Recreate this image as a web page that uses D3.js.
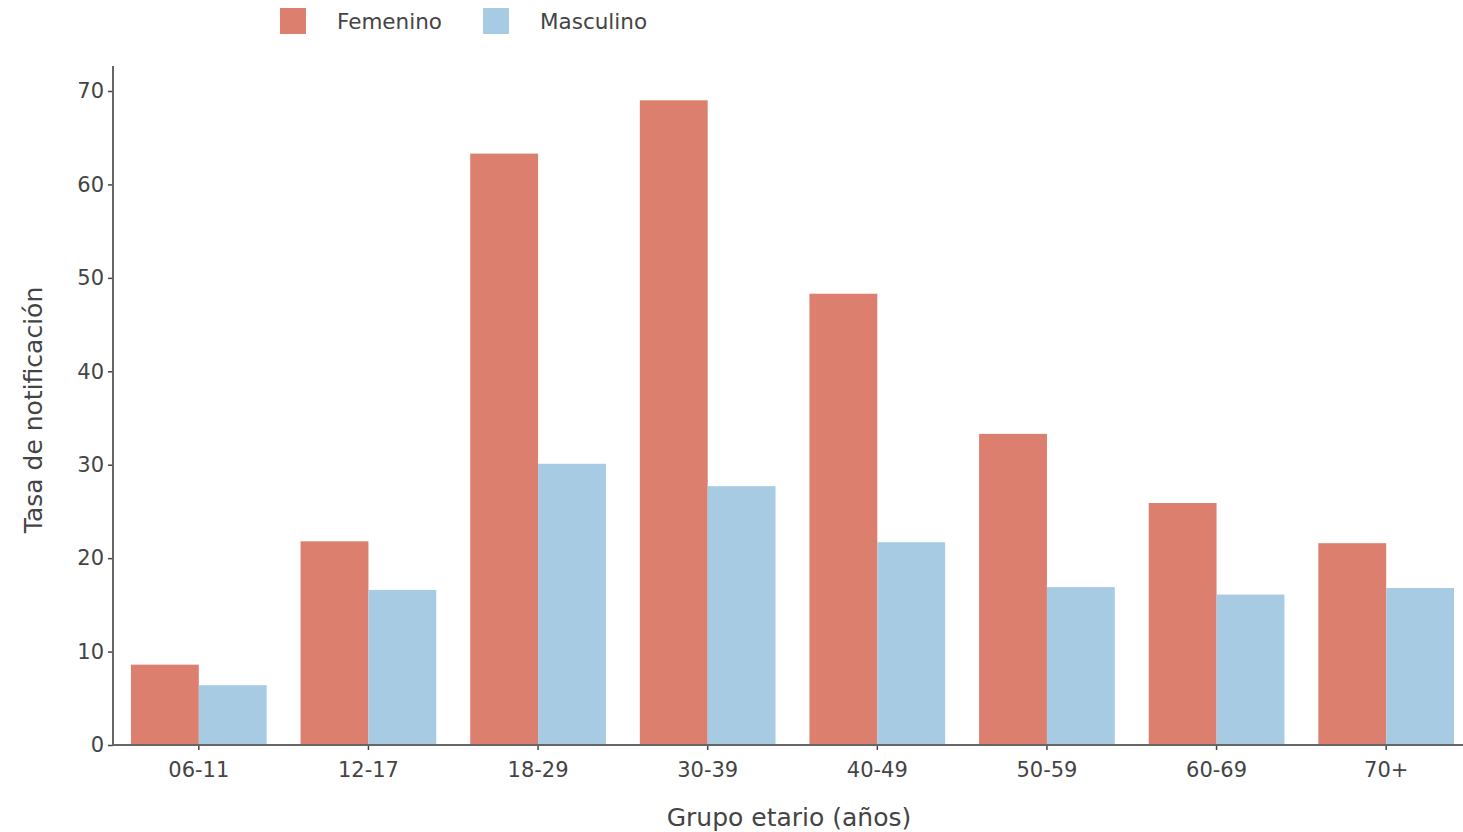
<!DOCTYPE html>
<html><head><meta charset="utf-8">
<script src="https://cdn.jsdelivr.net/npm/d3@7"></script>
<style>body{margin:0;background:#fff;}svg{display:block;}</style>
</head><body>
<script>
const categories = ["06-11","12-17","18-29","30-39","40-49","50-59","60-69","70+"];
const seriesNames = ["Femenino","Masculino"];
const femenino = [8.6, 21.8, 63.3, 69.0, 48.3, 33.3, 25.9, 21.6];
const masculino = [6.4, 16.6, 30.1, 27.7, 21.7, 16.9, 16.1, 16.8];
const yTicks = [0,10,20,30,40,50,60,70];
const colors = ["#dc7f6e","#a6cbe3"];

const W = 1463, H = 832;
const svg = d3.select("body").append("svg").attr("width", W).attr("height", H);
const font = "DejaVu Sans, Verdana, sans-serif";
const left = 114, right = 1471, baseY = 745;

const x = d3.scaleBand().domain(categories).range([left, right]).paddingInner(0.2).paddingOuter(0.1);
const xs = d3.scaleBand().domain(seriesNames).range([0, x.bandwidth()]);
const y = d3.scaleLinear().domain([0, 70]).range([baseY, 91]);

const data = categories.map((c, i) => ({cat: c, vals: [femenino[i], masculino[i]]}));
const g = svg.append("g");
data.forEach(d => {
  d.vals.forEach((v, j) => {
    g.append("rect")
      .attr("x", x(d.cat) + xs(seriesNames[j]))
      .attr("y", y(v))
      .attr("width", xs.bandwidth())
      .attr("height", baseY - y(v))
      .attr("fill", colors[j]);
  });
});

// Y axis
const yAxis = svg.append("g").attr("transform", `translate(${left-1},0)`)
  .call(d3.axisLeft(y).tickValues(yTicks).tickSize(5).tickPadding(4));
yAxis.select(".domain").remove();
yAxis.append("line").attr("x1",0).attr("x2",0).attr("y1",66).attr("y2",baseY+1).attr("stroke","#666").attr("stroke-width",2);
yAxis.selectAll(".tick line").attr("stroke","#444").attr("stroke-width",1.5);
yAxis.selectAll(".tick text").attr("fill","#444").attr("font-size",21).attr("font-family",font);

// X axis
const xAxis = svg.append("g").attr("transform", `translate(0,${baseY})`)
  .call(d3.axisBottom(x).tickSize(5).tickPadding(12));
xAxis.select(".domain").remove();
xAxis.append("line").attr("x1",left-2).attr("x2",W).attr("y1",0).attr("y2",0).attr("stroke","#666").attr("stroke-width",2);
xAxis.selectAll(".tick line").attr("stroke","#444").attr("stroke-width",1.5);
xAxis.selectAll(".tick text").attr("fill","#444").attr("font-size",21).attr("font-family",font);

// Titles
svg.append("text").attr("x", 789).attr("y", 826).attr("text-anchor","middle")
  .attr("font-family",font).attr("font-size",25).attr("fill","#444").text("Grupo etario (años)");
svg.append("text").attr("transform","translate(42,410) rotate(-90)").attr("text-anchor","middle")
  .attr("font-family",font).attr("font-size",25).attr("fill","#444").text("Tasa de notificación");

// Legend
const legX = [280, 483];
seriesNames.forEach((s, j) => {
  svg.append("rect").attr("x", legX[j]).attr("y", 8).attr("width", 26).attr("height", 26).attr("fill", colors[j]);
  svg.append("text").attr("x", legX[j] + 57).attr("y", 29).attr("font-family",font).attr("font-size",21.5)
    .attr("fill","#444").text(s);
});
</script>
</body></html>
